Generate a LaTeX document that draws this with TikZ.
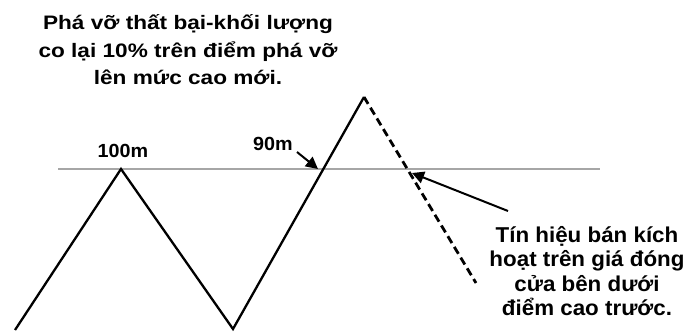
\documentclass[tikz,border=0pt]{standalone}
\usepackage{fontspec}
\setmainfont{Liberation Sans}
\newfontfamily\topfont[FakeStretch=1.16]{Liberation Sans}
\newfontfamily\labfont[FakeStretch=1.04]{Liberation Sans}
\usetikzlibrary{arrows.meta}
\begin{document}
\begin{tikzpicture}[x=1pt,y=-1pt,
  zig/.style={line width=2.3pt,black,line join=miter},
  level/.style={line width=1.6pt,gray!70},
  lab/.style={font=\labfont\bfseries\fontsize{19}{20}\selectfont,inner sep=0pt},
  note/.style={font=\topfont\bfseries\fontsize{19.5}{27.5}\selectfont,align=center,inner sep=0pt},
  pointer/.style={line width=2pt,-{Triangle[length=12pt,width=12pt]}}]
\useasboundingbox (0,0) rectangle (691,335);
\coordinate (L0) at (58,169);
\coordinate (L1) at (600,169);
\coordinate (A) at (15,330);
\coordinate (B) at (121,169);
\coordinate (C) at (233,329);
\coordinate (D) at (364,97);
\coordinate (E) at (476,283);
\coordinate (X1) at (318,169);
\coordinate (X2) at (412,173);
\coordinate (S1) at (297,152);
\coordinate (S2) at (508,211);
\draw[level] (L0) -- (L1);
\draw[zig] (A) -- (B) -- (C) -- (D);
\draw[zig,line width=2.8pt,dash pattern=on 8pt off 4.5pt] (D) -- (E);
\draw[pointer] (S1) -- (X1);
\draw[pointer] (S2) -- (X2);
\node[lab] (n100) at (123,151) {100m};
\node[lab] (n90) at (273,144) {90m};
\node[note] (top) at (188,50) {Phá vỡ thất bại-khối lượng\\co lại 10\% trên điểm phá vỡ\\lên mức cao mới.};
\node[note,font=\labfont\bfseries\fontsize{21.5}{24.3}\selectfont] (right) at (587,271) {Tín hiệu bán kích\\hoạt trên giá đóng\\cửa bên dưới\\điểm cao trước.};
\end{tikzpicture}
\end{document}
